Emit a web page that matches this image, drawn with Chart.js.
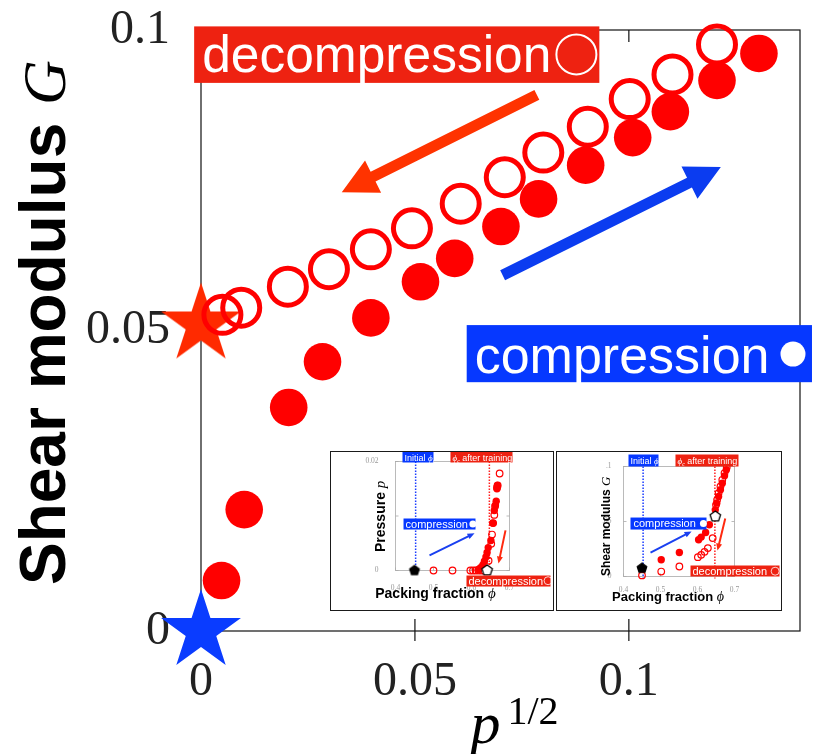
<!DOCTYPE html>
<html>
<head>
<meta charset="utf-8">
<script src="https://cdn.jsdelivr.net/npm/chart.js@4.4.1/dist/chart.umd.min.js"></script>
<style>
  body { margin: 0; background: #fff; }
  #wrap { position: relative; width: 817px; height: 754px; }
  .inset { position: absolute; border: 1.5px solid #1a1a1a; background: #fff; box-sizing: border-box; }
  .inset canvas { display: block; }
</style>
</head>
<body>
<div id="wrap">
  <canvas id="main" width="817" height="754"></canvas>
  <div class="inset" style="left:330px;top:451px;width:224px;height:160px"><canvas id="insetP" width="221" height="157"></canvas></div>
  <div class="inset" style="left:556px;top:451px;width:226px;height:160px"><canvas id="insetG" width="223" height="157"></canvas></div>
</div>
<script>
// main panel: shear modulus G vs p^(1/2)
var compX = [0.0048, 0.0101, 0.0205, 0.0284, 0.0397, 0.0513, 0.0593, 0.0701, 0.0789, 0.0899, 0.1009, 0.1097, 0.1206, 0.1304];
var compG = [0.0084, 0.0202, 0.0372, 0.0448, 0.0521, 0.0581, 0.0620, 0.0673, 0.0719, 0.0775, 0.0821, 0.0864, 0.0916, 0.0961];
var decompX = [0.0050, 0.0094, 0.0203, 0.0299, 0.0397, 0.0493, 0.0607, 0.0710, 0.0800, 0.0904, 0.1002, 0.1102, 0.1206];
var decompG = [0.0526, 0.0538, 0.0573, 0.0602, 0.0635, 0.0670, 0.0711, 0.0755, 0.0796, 0.0839, 0.0885, 0.0926, 0.0976];
var starX = [0, 0];
var starG = [0.051, 0];
var xTicks = [0, 0.05, 0.1];
var yTicks = [0, 0.05, 0.1];

// inset a: pressure vs packing fraction
var pCompPhi = [0.618, 0.624, 0.630, 0.634, 0.638, 0.641, 0.644, 0.651, 0.656, 0.660, 0.663, 0.665, 0.667, 0.668];
var pCompP = [0.0002, 0.0005, 0.0010, 0.0017, 0.0025, 0.0033, 0.0042, 0.0055, 0.0087, 0.0110, 0.0120, 0.0127, 0.0150, 0.0156];
var pOpenPhi = [0.500, 0.550, 0.597, 0.604, 0.611, 0.618, 0.625, 0.632, 0.645, 0.652, 0.654, 0.657, 0.660, 0.662, 0.667, 0.669, 0.674];
var pOpenP = [0, 0, 0, 0, 0, 0, 0, 0, 0.0018, 0.0049, 0.0066, 0.0087, 0.0102, 0.0118, 0.0152, 0.0156, 0.0178];
var pStart = [0.45, 0];
var pEnd = [0.641, 0];
var pTicks = [0, 0.01, 0.02];

// inset b: shear modulus vs packing fraction
var gCompPhi = [0.502, 0.551, 0.603, 0.610, 0.622, 0.632, 0.648, 0.652, 0.657, 0.662, 0.667, 0.673, 0.678];
var gCompG = [0.0152, 0.0218, 0.0334, 0.0358, 0.0400, 0.0470, 0.0606, 0.0667, 0.0727, 0.0788, 0.0848, 0.0915, 0.0970];
var gOpenPhi = [0.45, 0.502, 0.551, 0.601, 0.610, 0.619, 0.628, 0.641, 0.650, 0.653, 0.657, 0.662, 0.667, 0.673, 0.679];
var gOpenG = [0.0010, 0.0045, 0.0091, 0.0176, 0.0197, 0.0224, 0.0258, 0.0349, 0.0652, 0.0697, 0.0758, 0.0818, 0.0879, 0.0940, 0.0994];
var gStart = [0.45, 0.0076];
var gEnd = [0.648, 0.0545];
var gTicks = [0, 0.05, 0.1];

var phiTicks = [0.4, 0.5, 0.6, 0.7];
var phiInitial = 0.453;
var phiTrained = 0.647;

var RED = '#ff0000', TAG_RED = '#ee2211', TAG_BLUE = '#0638ff';
var SANS = '"Liberation Sans", Arial, sans-serif';
var SERIF = '"Liberation Serif", "Times New Roman", serif';

Chart.defaults.font.family = SANS;

function pts(xs, ys) {
  return xs.map(function (x, i) { return { x: x, y: ys[i] }; });
}

function starImage(R, color) {
  var c = document.createElement('canvas');
  c.width = c.height = 2 * R + 4;
  var g = c.getContext('2d'), m = R + 2, r = R * 0.382;
  g.beginPath();
  for (var i = 0; i < 10; i++) {
    var a = -Math.PI / 2 + i * Math.PI / 5, d = i % 2 ? r : R;
    g.lineTo(m + d * Math.cos(a), m + d * Math.sin(a));
  }
  g.closePath();
  g.fillStyle = color;
  g.fill();
  return c;
}

function pentImage(R, fill) {
  var c = document.createElement('canvas');
  c.width = c.height = 2 * R + 4;
  var g = c.getContext('2d'), m = R + 2;
  g.beginPath();
  for (var i = 0; i < 5; i++) {
    var a = -Math.PI / 2 + i * 2 * Math.PI / 5;
    g.lineTo(m + R * Math.cos(a), m + R * Math.sin(a));
  }
  g.closePath();
  g.fillStyle = fill;
  g.fill();
  g.lineWidth = 1.3;
  g.strokeStyle = '#000';
  g.stroke();
  return c;
}

function drawArrow(ctx, a, b, shaft, headLen, headW, color) {
  var dx = b[0] - a[0], dy = b[1] - a[1], len = Math.hypot(dx, dy);
  var ux = dx / len, uy = dy / len, nx = -uy, ny = ux;
  var bx = b[0] - ux * headLen, by = b[1] - uy * headLen;
  ctx.fillStyle = color;
  ctx.beginPath();
  ctx.moveTo(a[0] + nx * shaft / 2, a[1] + ny * shaft / 2);
  ctx.lineTo(bx + nx * shaft / 2, by + ny * shaft / 2);
  ctx.lineTo(bx + nx * headW / 2, by + ny * headW / 2);
  ctx.lineTo(b[0], b[1]);
  ctx.lineTo(bx - nx * headW / 2, by - ny * headW / 2);
  ctx.lineTo(bx - nx * shaft / 2, by - ny * shaft / 2);
  ctx.lineTo(a[0] - nx * shaft / 2, a[1] - ny * shaft / 2);
  ctx.closePath();
  ctx.fill();
}

// coloured label box; parts are text runs or a circle symbol
function drawTag(ctx, p0, p1, bg, tx, ty, parts) {
  ctx.fillStyle = bg;
  ctx.fillRect(p0[0], p0[1], p1[0] - p0[0], p1[1] - p0[1]);
  var x = p0[0] + tx, base = p0[1] + ty;
  ctx.fillStyle = '#fff';
  ctx.strokeStyle = '#fff';
  ctx.textAlign = 'left';
  ctx.textBaseline = 'alphabetic';
  parts.forEach(function (p) {
    if (p.dot) {
      x += p.gap || 0;
      ctx.beginPath();
      ctx.arc(x + p.dot, base - p.lift, p.dot, 0, 2 * Math.PI);
      if (p.open) { ctx.lineWidth = p.lw; ctx.stroke(); } else { ctx.fill(); }
      x += 2 * p.dot;
    } else {
      ctx.font = p.font;
      ctx.fillText(p.text, x, base + (p.dy || 0));
      x += ctx.measureText(p.text).width;
    }
  });
}

function toPx(chart, x, y) {
  return [chart.scales.x.getPixelForValue(x), chart.scales.y.getPixelForValue(y)];
}

// keep the plot box exactly where the padding puts it
function noEdgePadding(s) {
  s.paddingTop = 0; s.paddingBottom = 0; s.paddingLeft = 0; s.paddingRight = 0;
}

var mainDecor = {
  id: 'mainDecor',
  beforeDatasetsDraw: function (chart) {
    var ctx = chart.ctx, a = chart.chartArea, sx = chart.scales.x, sy = chart.scales.y;
    ctx.save();
    ctx.strokeStyle = '#111';
    ctx.lineWidth = 1.2;
    ctx.strokeRect(a.left, a.top, a.right - a.left, a.bottom - a.top);
    ctx.beginPath();
    xTicks.forEach(function (v) {
      if (v === 0) return;
      var x = sx.getPixelForValue(v);
      ctx.moveTo(x, a.top); ctx.lineTo(x, a.top + 12);
      ctx.moveTo(x, a.bottom - 12); ctx.lineTo(x, a.bottom + 10);
    });
    yTicks.forEach(function (v) {
      if (v === 0 || v === 0.1) return;
      var y = sy.getPixelForValue(v);
      ctx.moveTo(a.left, y); ctx.lineTo(a.left + 12, y);
      ctx.moveTo(a.right, y); ctx.lineTo(a.right - 12, y);
    });
    ctx.stroke();
    ctx.restore();
  },
  afterDatasetsDraw: function (chart) {
    var ctx = chart.ctx;
    ctx.save();
    drawArrow(ctx, toPx(chart, 0.0785, 0.0892), toPx(chart, 0.0329, 0.0730), 11, 35, 36, '#ff3300');
    drawArrow(ctx, toPx(chart, 0.0705, 0.0592), toPx(chart, 0.1215, 0.0772), 11, 35, 36, '#0b3cf0');
    drawTag(ctx, toPx(chart, -0.0016, 0.1006), toPx(chart, 0.0931, 0.0912), TAG_RED, 8, 46, [
      { text: 'decompression', font: '51.5px ' + SANS },
      { dot: 20, open: true, lw: 2, gap: 5, lift: 18 }
    ]);
    drawTag(ctx, toPx(chart, 0.0621, 0.0509), toPx(chart, 0.1428, 0.0414), TAG_BLUE, 8, 48, [
      { text: 'compression', font: '52px ' + SANS },
      { dot: 12.5, gap: 11, lift: 19 }
    ]);
    ctx.restore();
  },
  afterDraw: function (chart) {
    var ctx = chart.ctx, a = chart.chartArea;
    ctx.save();
    ctx.fillStyle = '#000';
    ctx.textAlign = 'left';
    ctx.textBaseline = 'alphabetic';
    // vertical title
    ctx.translate(65, 585);
    ctx.rotate(-Math.PI / 2);
    ctx.font = 'bold 64px ' + SANS;
    var t = 'Shear modulus ';
    ctx.fillText(t, 0, 0);
    var w = ctx.measureText(t).width;
    ctx.font = 'italic 62px ' + SERIF;
    ctx.fillText('G', w, 0);
    ctx.restore();
    // horizontal title p^{1/2}
    ctx.save();
    ctx.fillStyle = '#000';
    var cx = (a.left + a.right) / 2;
    ctx.font = 'italic 60px ' + SERIF;
    ctx.fillText('p', cx - 30, 743);
    ctx.font = '40px ' + SERIF;
    ctx.fillText('1/2', cx + 7, 724);
    ctx.restore();
  }
};

new Chart(document.getElementById('main'), {
  type: 'scatter',
  data: {
    datasets: [
      { data: pts(decompX, decompG), pointRadius: 18.5, borderWidth: 5, borderColor: RED, backgroundColor: 'rgba(0,0,0,0)', clip: false },
      { data: pts(compX, compG), pointRadius: 18.8, borderWidth: 0, backgroundColor: RED, clip: false },
      { data: pts(starX, starG), pointRadius: 20, pointStyle: [starImage(42, '#ff2a00'), starImage(42, '#0a3cff')], clip: false }
    ]
  },
  options: {
    responsive: false,
    animation: false,
    devicePixelRatio: 1,
    layout: { autoPadding: false, padding: { top: 30, right: 17, left: 0, bottom: 0 } },
    plugins: { legend: { display: false }, tooltip: { enabled: false } },
    scales: {
      x: {
        type: 'linear', min: 0, max: 0.14,
        afterBuildTicks: function (s) { s.ticks = xTicks.map(function (v) { return { value: v }; }); },
        afterFit: function (s) { s.height = 123; noEdgePadding(s); },
        grid: { display: false },
        border: { display: false },
        ticks: { font: { family: SERIF, size: 48 }, color: '#222', padding: 15, maxRotation: 0, callback: function (v) { return String(v); } }
      },
      y: {
        type: 'linear', min: 0, max: 0.1,
        afterBuildTicks: function (s) { s.ticks = yTicks.map(function (v) { return { value: v }; }); },
        afterFit: function (s) { s.width = 201; noEdgePadding(s); },
        grid: { display: false },
        border: { display: false },
        ticks: { font: { family: SERIF, size: 48 }, color: '#222', padding: 23, callback: function (v) { return String(v); } }
      }
    }
  },
  plugins: [mainDecor]
});

var blackPent = pentImage(5, '#000');
var whitePent = pentImage(5.5, '#fff');

function insetChart(id, o) {
  var decor = {
    id: 'insetDecor',
    beforeDatasetsDraw: function (chart) {
      var ctx = chart.ctx, a = chart.chartArea, sx = chart.scales.x, sy = chart.scales.y;
      ctx.save();
      ctx.strokeStyle = '#aaa';
      ctx.lineWidth = 0.8;
      ctx.strokeRect(a.left, a.top, a.right - a.left, a.bottom - a.top);
      ctx.beginPath();
      phiTicks.forEach(function (v) {
        var x = sx.getPixelForValue(v);
        ctx.moveTo(x, a.bottom); ctx.lineTo(x, a.bottom - 3);
      });
      o.yTicks.forEach(function (v) {
        var y = sy.getPixelForValue(v);
        ctx.moveTo(a.left, y); ctx.lineTo(a.left + 3, y);
        ctx.moveTo(a.right, y); ctx.lineTo(a.right - 3, y);
      });
      ctx.stroke();
      ctx.lineWidth = 1.5;
      ctx.setLineDash([1.5, 1.5]);
      [[phiInitial, '#1a3cff'], [phiTrained, '#ff2020']].forEach(function (l) {
        var x = sx.getPixelForValue(l[0]);
        ctx.strokeStyle = l[1];
        ctx.beginPath();
        ctx.moveTo(x, a.top);
        ctx.lineTo(x, a.bottom + 2);
        ctx.stroke();
      });
      ctx.restore();
    },
    afterDatasetsDraw: function (chart) {
      var ctx = chart.ctx;
      ctx.save();
      o.arrows.forEach(function (r) {
        drawArrow(ctx, toPx(chart, r[0], r[1]), toPx(chart, r[2], r[3]), 2, 7, 6, r[4]);
      });
      o.tags.forEach(function (t) {
        drawTag(ctx, toPx(chart, t.x0, t.y0), toPx(chart, t.x1, t.y1), t.bg, t.tx, t.ty, t.parts);
      });
      ctx.restore();
    },
    afterDraw: function (chart) {
      var ctx = chart.ctx;
      ctx.save();
      ctx.fillStyle = '#000';
      ctx.textBaseline = 'alphabetic';
      ctx.textAlign = 'left';
      ctx.font = 'bold ' + o.xTitle.size + 'px ' + SANS;
      var t = 'Packing fraction ';
      var w1 = ctx.measureText(t).width;
      ctx.font = 'italic ' + (o.xTitle.size + 1) + 'px ' + SERIF;
      var w2 = ctx.measureText('ϕ').width;
      var x0 = o.xTitle.x - (w1 + w2) / 2;
      ctx.font = 'bold ' + o.xTitle.size + 'px ' + SANS;
      ctx.fillText(t, x0, o.xTitle.y);
      ctx.font = 'italic ' + (o.xTitle.size + 1) + 'px ' + SERIF;
      ctx.fillText('ϕ', x0 + w1, o.xTitle.y);
      ctx.translate(o.yTitle.x, o.yTitle.y);
      ctx.rotate(-Math.PI / 2);
      ctx.font = 'bold ' + o.yTitle.size + 'px ' + SANS;
      ctx.fillText(o.yTitle.text, 0, 0);
      var w = ctx.measureText(o.yTitle.text).width;
      ctx.font = 'italic ' + (o.yTitle.size + 1) + 'px ' + SERIF;
      ctx.fillText(o.yTitle.sym, w, 0);
      ctx.restore();
    }
  };
  return new Chart(document.getElementById(id), {
    type: 'scatter',
    data: {
      datasets: [
        { data: [{ x: o.start[0], y: o.start[1] }], pointRadius: 5, pointStyle: blackPent, clip: false },
        { data: [{ x: o.end[0], y: o.end[1] }], pointRadius: 5, pointStyle: whitePent, clip: false },
        { data: pts(o.compPhi, o.compY), pointRadius: 3.7, borderWidth: 0, backgroundColor: RED, clip: false },
        { data: pts(o.openPhi, o.openY), pointRadius: 3.3, borderWidth: 1.2, borderColor: RED, backgroundColor: 'rgba(0,0,0,0)', clip: false }
      ]
    },
    options: {
      responsive: false,
      animation: false,
      devicePixelRatio: 1,
      layout: { autoPadding: false, padding: { top: o.area.top, right: o.area.right, left: 0, bottom: 0 } },
      plugins: { legend: { display: false }, tooltip: { enabled: false } },
      scales: {
        x: {
          type: 'linear', min: 0.4, max: 0.7,
          afterBuildTicks: function (s) { s.ticks = phiTicks.map(function (v) { return { value: v }; }); },
          afterFit: function (s) { s.height = o.area.bottom; noEdgePadding(s); },
          grid: { display: false },
          border: { display: false },
          ticks: { font: { family: SERIF, size: 7.5 }, color: '#999', padding: o.xPad, maxRotation: 0 }
        },
        y: {
          type: 'linear', min: 0, max: o.yMax,
          afterBuildTicks: function (s) { s.ticks = o.yTicks.map(function (v) { return { value: v }; }); },
          afterFit: function (s) { s.width = o.area.left; noEdgePadding(s); },
          grid: { display: false },
          border: { display: false },
          ticks: { font: { family: SERIF, size: 7.5 }, color: '#999', padding: o.yPad, callback: o.yLabel }
        }
      }
    },
    plugins: [decor]
  });
}

function initialParts(size) {
  return [
    { text: 'Initial ', font: size + 'px ' + SANS },
    { text: 'ϕ', font: 'italic ' + size + 'px ' + SERIF },
    { text: 'c', font: 'italic ' + (size - 3) + 'px ' + SERIF, dy: 2 }
  ];
}
function trainedParts(size) {
  return [
    { text: 'ϕ', font: 'italic ' + size + 'px ' + SERIF },
    { text: 'c', font: 'italic ' + (size - 3) + 'px ' + SERIF, dy: 2 },
    { text: ' after training', font: size + 'px ' + SANS }
  ];
}

insetChart('insetP', {
  compPhi: pCompPhi, compY: pCompP, openPhi: pOpenPhi, openY: pOpenP,
  start: pStart, end: pEnd, yMax: 0.02, yTicks: pTicks,
  yLabel: function (v) { return v === 0.01 ? '' : String(v); },
  area: { left: 64.5, top: 9.5, right: 42.5, bottom: 38.5 }, xPad: 5, yPad: 9,
  xTitle: { x: 104.5, y: 145.5, size: 14 },
  yTitle: { x: 53.5, y: 100, size: 14, text: 'Pressure ', sym: 'p' },
  arrows: [[0.4895, 0.00276, 0.608, 0.00682, '#1a40f0'], [0.6895, 0.00737, 0.671, 0.00129, '#ff2a10']],
  tags: [
    { x0: 0.4184, y0: 0.02183, x1: 0.5, y1: 0.01982, bg: TAG_BLUE, tx: 2, ty: 9, parts: initialParts(9) },
    { x0: 0.5447, y0: 0.02183, x1: 0.7079, y1: 0.01982, bg: TAG_RED, tx: 2, ty: 9, parts: trainedParts(9) },
    { x0: 0.4211, y0: 0.00954, x1: 0.6105, y1: 0.00752, bg: TAG_BLUE, tx: 2, ty: 9, parts: [{ text: 'compression', font: '11px ' + SANS }, { dot: 3.5, gap: 1.5, lift: 3.5 }] },
    { x0: 0.5868, y0: -0.00092, x1: 0.8079, y1: -0.00294, bg: TAG_RED, tx: 2, ty: 9, parts: [{ text: 'decompression', font: '11px ' + SANS }, { dot: 4, open: true, lw: 0.8, gap: 1, lift: 3.8 }] }
  ]
});

insetChart('insetG', {
  compPhi: gCompPhi, compY: gCompG, openPhi: gOpenPhi, openY: gOpenG,
  start: gStart, end: gEnd, yMax: 0.1, yTicks: gTicks,
  yLabel: function (v) { return v === 0 ? '0' : String(v).replace(/^0/, ''); },
  area: { left: 66.5, top: 14.5, right: 45.5, bottom: 32.5 }, xPad: 1, yPad: 4,
  xTitle: { x: 111, y: 148.5, size: 13 },
  yTitle: { x: 52.5, y: 124, size: 12, text: 'Shear modulus ', sym: 'G' },
  arrows: [[0.473, 0.0218, 0.584, 0.0409, '#1a40f0'], [0.675, 0.0527, 0.654, 0.0236, '#ff2a10']],
  tags: [
    { x0: 0.4135, y0: 0.1109, x1: 0.4946, y1: 0.1, bg: TAG_BLUE, tx: 2, ty: 9.5, parts: initialParts(9) },
    { x0: 0.5405, y0: 0.1109, x1: 0.7108, y1: 0.1, bg: TAG_RED, tx: 2, ty: 9.5, parts: trainedParts(9) },
    { x0: 0.4189, y0: 0.0536, x1: 0.6243, y1: 0.0427, bg: TAG_BLUE, tx: 3, ty: 9.5, parts: [{ text: 'compression ', font: '11px ' + SANS }, { dot: 3.5, gap: 1, lift: 3.5 }] },
    { x0: 0.5811, y0: 0.0100, x1: 0.8216, y1: 0, bg: TAG_RED, tx: 2, ty: 9.5, parts: [{ text: 'decompression ', font: '11px ' + SANS }, { dot: 4, open: true, lw: 0.8, gap: 1, lift: 3.8 }] }
  ]
});
</script>
</body>
</html>
